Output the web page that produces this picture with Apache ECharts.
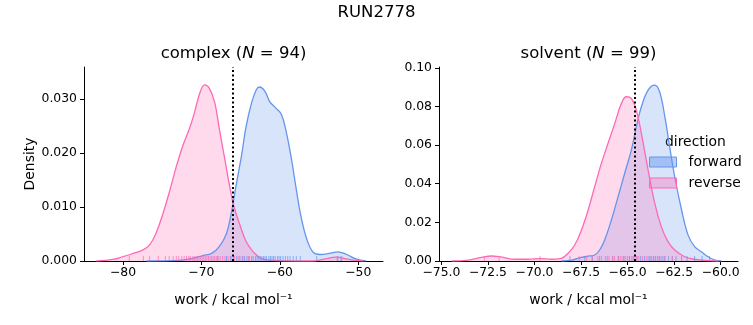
<!DOCTYPE html>
<html>
<head>
<meta charset="utf-8">
<script src="https://cdn.jsdelivr.net/npm/echarts@6/dist/echarts.min.js"></script>
<style>html,body{margin:0;padding:0;background:#fff}#c{width:753px;height:325px}</style>
</head>
<body>
<div id="c"></div>
<script>
// ---- data ----
const suptitle = 'RUN2778';
const panelNames = ['complex', 'solvent'];
const panelN = [94, 99];
const directions = ['forward', 'reverse'];

// complex KDE (forward)
const complexFwdX = [-77.0,-72.8,-71.1,-69.8,-68.7,-67.7,-66.8,-66.2,-65.6,-64.9,-64.3,-63.6,-63.0,-62.6,-61.9,-61.3,-60.5,-59.8,-59.2,-58.5,-57.9,-57.3,-56.6,-55.8,-54.9,-53.7,-52.6,-51.5,-50.3,-49.0];
const complexFwdY = [0,0.0001,0.0005,0.0010,0.0014,0.0027,0.0051,0.0088,0.0138,0.0194,0.0249,0.0293,0.0317,0.0322,0.0314,0.0295,0.0283,0.0271,0.0240,0.0187,0.0132,0.0082,0.0042,0.0017,0.0012,0.0014,0.0017,0.0012,0.0004,0];
// complex KDE (reverse)
const complexRevX = [-83.4,-81.3,-80.0,-78.7,-77.5,-76.6,-75.8,-74.9,-74.0,-73.2,-72.4,-71.5,-70.9,-70.2,-69.6,-69.0,-68.3,-67.7,-67.0,-66.4,-65.8,-65.1,-64.3,-63.4,-62.4,-60.9,-57.9,-55.8,-54.5,-52.8,-51.5,-50.3,-49.4];
const complexRevY = [0,0.0003,0.0008,0.0014,0.0020,0.0030,0.0051,0.0088,0.0132,0.0175,0.0212,0.0246,0.0274,0.0311,0.0326,0.0320,0.0293,0.0243,0.0187,0.0138,0.0098,0.0067,0.0036,0.0017,0.0005,0.0001,0,0,0.0003,0.0007,0.0004,0.0001,0];
// solvent KDE (forward)
const solventFwdX = [-68.56,-68.0,-67.48,-67.04,-66.77,-66.5,-66.23,-65.87,-65.51,-65.16,-64.8,-64.53,-64.26,-63.9,-63.54,-63.28,-63.0,-62.74,-62.47,-62.1,-61.75,-61.4,-61.04,-60.68,-60.32,-59.96];
const solventFwdY = [0,0.0005,0.0019,0.0026,0.0031,0.0057,0.0109,0.0212,0.0333,0.0453,0.0574,0.0695,0.0798,0.0884,0.0910,0.0876,0.0747,0.0591,0.0436,0.0264,0.0134,0.0074,0.0048,0.0022,0.0005,0];
// solvent KDE (reverse)
const solventRevX = [-74.46,-73.57,-72.85,-72.3,-71.8,-71.06,-70.35,-69.7,-69.1,-68.56,-68.2,-67.84,-67.48,-67.12,-66.77,-66.41,-66.05,-65.69,-65.33,-65.07,-64.8,-64.53,-64.26,-63.9,-63.54,-63.19,-62.83,-62.47,-61.93,-61.4,-60.68,-60.14];
const solventRevY = [0,0.0005,0.0019,0.0026,0.0021,0.0009,0.0009,0.0012,0.0009,0.0014,0.0040,0.0083,0.0160,0.0264,0.0384,0.0505,0.0609,0.0712,0.0816,0.0850,0.0841,0.0781,0.0660,0.0471,0.0298,0.0178,0.0100,0.0057,0.0022,0.0009,0.0002,0];

// rug samples
const complexFwdRug = [-67.9,-66.8,-66.3,-65.9,-65.5,-65.1,-64.8,-64.5,-64.2,-63.9,-63.6,-63.4,-63.1,-62.9,-62.7,-62.5,-62.3,-62.1,-61.9,-61.7,-61.4,-61.2,-61.0,-60.8,-60.6,-60.3,-60.1,-59.9,-59.6,-59.3,-59.0,-58.7,-58.3,-57.9,-57.4,-55.3,-52.6,-52.2];
const complexRevRug = [-79.2,-77.4,-76.6,-75.5,-74.6,-74.1,-73.6,-73.2,-72.9,-72.5,-72.2,-71.9,-71.6,-71.4,-71.1,-70.9,-70.7,-70.5,-70.3,-70.1,-69.9,-69.7,-69.5,-69.3,-69.1,-68.9,-68.7,-68.5,-68.3,-68.1,-67.9,-67.6,-67.3,-67.0,-66.6,-66.2,-65.8,-65.3,-64.7,-64.0,-52.7,-52.1];
const solventFwdRug = [-68.1,-67.3,-66.9,-66.5,-66.1,-65.8,-65.5,-65.2,-64.9,-64.7,-64.5,-64.3,-64.1,-63.9,-63.8,-63.7,-63.6,-63.5,-63.4,-63.3,-63.2,-63.1,-63.0,-62.8,-62.6,-62.4,-62.1,-61.8,-61.4,-61.0,-60.6];
const solventRevRug = [-72.7,-71.9,-69.7,-67.6,-67.2,-66.9,-66.6,-66.4,-66.2,-66.0,-65.8,-65.7,-65.5,-65.4,-65.3,-65.2,-65.1,-65.0,-64.9,-64.8,-64.7,-64.6,-64.5,-64.4,-64.2,-64.0,-63.8,-63.6,-63.3,-63.0,-62.6];

// free-energy reference lines
const refLines = [-66.06, -64.64];

// tick values
const complexXTicks = [-80,-70,-60,-50];
const complexYTicks = [0,0.01,0.02,0.03];
const solventXTicks = [-75,-72.5,-70,-67.5,-65,-62.5,-60];
const solventYTicks = [0,0.02,0.04,0.06,0.08,0.10];

// ---- chart ----
const FONT = 'DejaVu Sans';
const TICK_FS = 12.4, LABEL_FS = 13.9, TITLE_FS = 16.5;
const BLUE = '#6495ED', PINK = '#FF69B4';
const BLUE_FILL = 'rgba(100,149,237,0.25)', PINK_FILL = 'rgba(255,105,180,0.25)';
const minus = s => String(s).replace('-', '\u2212');
const zip = (xs, ys) => xs.map((x, i) => [x, ys[i]]);

const chart = echarts.init(document.getElementById('c'), null, {renderer: 'canvas'});

function xAxisOf(idx, min, max, ticks, dec) {
  return {
    type: 'value', gridIndex: idx, min: min, max: max,
    name: 'work / kcal mol\u207B\u00B9', nameLocation: 'middle', nameGap: 32,
    nameTextStyle: {fontFamily: FONT, fontSize: LABEL_FS, color: '#000'},
    axisLine: {show: true, onZero: false, lineStyle: {color: '#000', width: 1}},
    axisTick: {show: true, length: 4, lineStyle: {color: '#000', width: 1}, customValues: ticks},
    axisLabel: {customValues: ticks, margin: 6, fontFamily: FONT, fontSize: TICK_FS, color: '#000',
      formatter: v => minus(Number(v).toFixed(dec))},
    splitLine: {show: false}
  };
}
function yAxisOf(idx, max, ticks, name, dec) {
  return {
    type: 'value', gridIndex: idx, min: 0, max: max,
    name: name, nameLocation: 'middle', nameGap: 46,
    nameTextStyle: {fontFamily: FONT, fontSize: LABEL_FS, color: '#000'},
    axisLine: {show: true, lineStyle: {color: '#000', width: 1}},
    axisTick: {show: true, length: 4, lineStyle: {color: '#000', width: 1}, customValues: ticks},
    axisLabel: {customValues: ticks, margin: 7, fontFamily: FONT, fontSize: TICK_FS, color: '#000',
      formatter: v => Number(v).toFixed(dec)},
    splitLine: {show: false}
  };
}
function kde(name, idx, xs, ys, line, fill) {
  return {
    type: 'line', name: name, xAxisIndex: idx, yAxisIndex: idx,
    data: zip(xs, ys), smooth: 0.4, showSymbol: false, symbol: 'none',
    lineStyle: {color: line, width: 1.3}, itemStyle: {color: line},
    areaStyle: {color: fill, opacity: 1, origin: 'start'}, silent: true, z: 2
  };
}
function rug(idx, vals, color) {
  return {
    type: 'scatter', name: 'rug', xAxisIndex: idx, yAxisIndex: idx,
    data: vals.map(v => [v, 0]), symbol: 'rect', symbolSize: [1, 5], symbolOffset: [0, -2.5],
    itemStyle: {color: color, opacity: 0.7}, silent: true, z: 3
  };
}
function vline(idx, v) {
  return {
    type: 'line', name: 'ref', xAxisIndex: idx, yAxisIndex: idx, data: [], silent: true,
    markLine: {silent: true, symbol: ['none', 'none'], label: {show: false},
      lineStyle: {color: '#000', width: 2, type: [2, 2.5]},
      data: [{xAxis: v}], animation: false}, z: 5
  };
}
const titleRich = {
  a: {fontFamily: FONT, fontSize: TITLE_FS, fontWeight: 'normal', color: '#000'},
  i: {fontFamily: FONT, fontSize: TITLE_FS, fontWeight: 'normal', fontStyle: 'italic', color: '#000'}
};

chart.setOption({
  animation: false,
  backgroundColor: '#fff',
  title: [
    {text: suptitle, left: 'center', top: 4, padding: 0,
      textStyle: {fontFamily: FONT, fontSize: TITLE_FS, fontWeight: 'normal', color: '#000'}},
    {text: `{a|${panelNames[0]} (}{i|N}{a| = ${panelN[0]})}`, left: 233.5, top: 45, padding: 0, textAlign: 'center',
      textStyle: {fontWeight: 'normal', rich: titleRich}},
    {text: `{a|${panelNames[1]} (}{i|N}{a| = ${panelN[1]})}`, left: 588.5, top: 45, padding: 0, textAlign: 'center',
      textStyle: {fontWeight: 'normal', rich: titleRich}}
  ],
  grid: [
    {left: 84, top: 67, width: 299, height: 194},
    {left: 439, top: 67, width: 299, height: 194}
  ],
  xAxis: [
    xAxisOf(0, -84.97, -46.85, complexXTicks, 0),
    xAxisOf(1, -75.13, -59.07, solventXTicks, 1)
  ],
  yAxis: [
    yAxisOf(0, 0.0359, complexYTicks, 'Density', 3),
    yAxisOf(1, 0.1004, solventYTicks, '', 2)
  ],
  legend: {
    orient: 'vertical', left: 649, top: 155, padding: 0, itemWidth: 27, itemHeight: 10, itemGap: 7,
    textStyle: {fontFamily: FONT, fontSize: LABEL_FS, color: '#000', lineHeight: 14, padding: [0, 0, 0, 7]},
    selectedMode: false,
    data: [
      {name: directions[0], icon: 'rect', itemStyle: {color: 'rgba(100,149,237,0.45)', borderColor: BLUE, borderWidth: 1}},
      {name: directions[1], icon: 'rect', itemStyle: {color: 'rgba(255,105,180,0.35)', borderColor: PINK, borderWidth: 1}}
    ]
  },
  graphic: [
    {type: 'text', left: 665, top: 135, style: {text: 'direction', fontFamily: FONT, fontSize: LABEL_FS, fill: '#000'}}
  ],
  series: [
    kde(directions[0], 0, complexFwdX, complexFwdY, BLUE, BLUE_FILL),
    kde(directions[1], 0, complexRevX, complexRevY, PINK, PINK_FILL),
    kde(directions[0], 1, solventFwdX, solventFwdY, BLUE, BLUE_FILL),
    kde(directions[1], 1, solventRevX, solventRevY, PINK, PINK_FILL),
    rug(0, complexFwdRug, BLUE), rug(0, complexRevRug, PINK),
    rug(1, solventFwdRug, BLUE), rug(1, solventRevRug, PINK),
    vline(0, refLines[0]), vline(1, refLines[1])
  ]
});
</script>
</body>
</html>
